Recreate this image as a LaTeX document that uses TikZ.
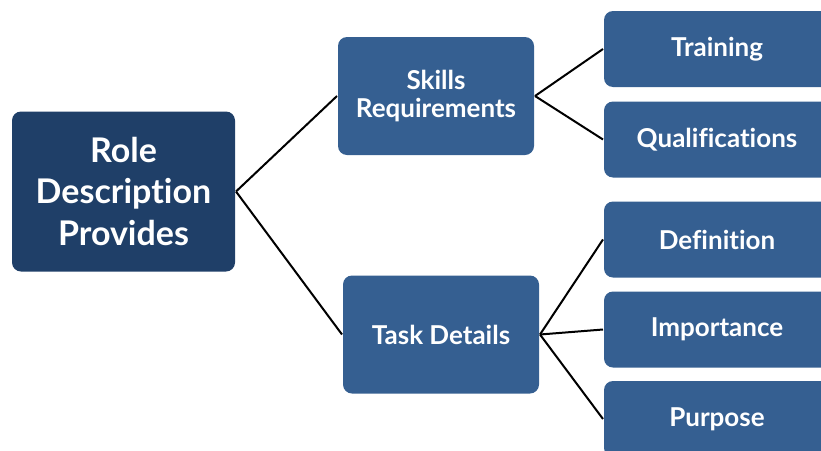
\documentclass[tikz,border=0pt]{standalone}
\usepackage{fontspec}
\setmainfont{Lato}[Ligatures=NoCommon]
\usetikzlibrary{positioning}
\definecolor{rootblue}{HTML}{1F3F68}
\definecolor{boxblue}{HTML}{355F91}

\begin{document}
\begin{tikzpicture}[
    x=1pt,
    y=-1pt,
    line width=2pt,
    root node/.style={rectangle,rounded corners=9pt,fill=rootblue,text=white,align=center,
      minimum width=223pt,minimum height=160pt,font=\bfseries\fontsize{34}{41}\selectfont},
    branch node/.style={rectangle,rounded corners=9pt,fill=boxblue,text=white,align=center,
      minimum width=196pt,minimum height=118pt,font=\bfseries\fontsize{26}{28}\selectfont},
    leaf node/.style={rectangle,rounded corners=9pt,fill=boxblue,text=white,anchor=west,
      minimum width=226pt,minimum height=76pt,text width=200pt,align=center,
      font=\bfseries\fontsize{26}{28}\selectfont}]

  \useasboundingbox (0,0) rectangle (821,450);
  \clip (0,0) rectangle (821,450);

  \node[root node] (Role) at (123.5,191.5) {Role\\Description\\Provides};
  \node[branch node] (Skills) at (436,96) {Skills\\Requirements};
  \node[branch node] (Task) at (441,334.5) {Task Details};

  \node[leaf node] (Training) at (603,49) {Training};
  \node[leaf node] (Qualifications) at (603,139.5) {Qualifications};
  \node[leaf node] (Definition) at (603,239.5) {Definition};
  \node[leaf node] (Importance) at (603,329.5) {Importance};
  \node[leaf node] (Purpose) at (603,419) {Purpose};

  \path[draw=black]
    (Role.east)
         edge (Skills.west)
         edge (Task.west)
    (Skills.east)
         edge (Training.west)
         edge (Qualifications.west)
    (Task.east)
         edge (Definition.west)
         edge (Importance.west)
         edge (Purpose.west);
\end{tikzpicture}
\end{document}
